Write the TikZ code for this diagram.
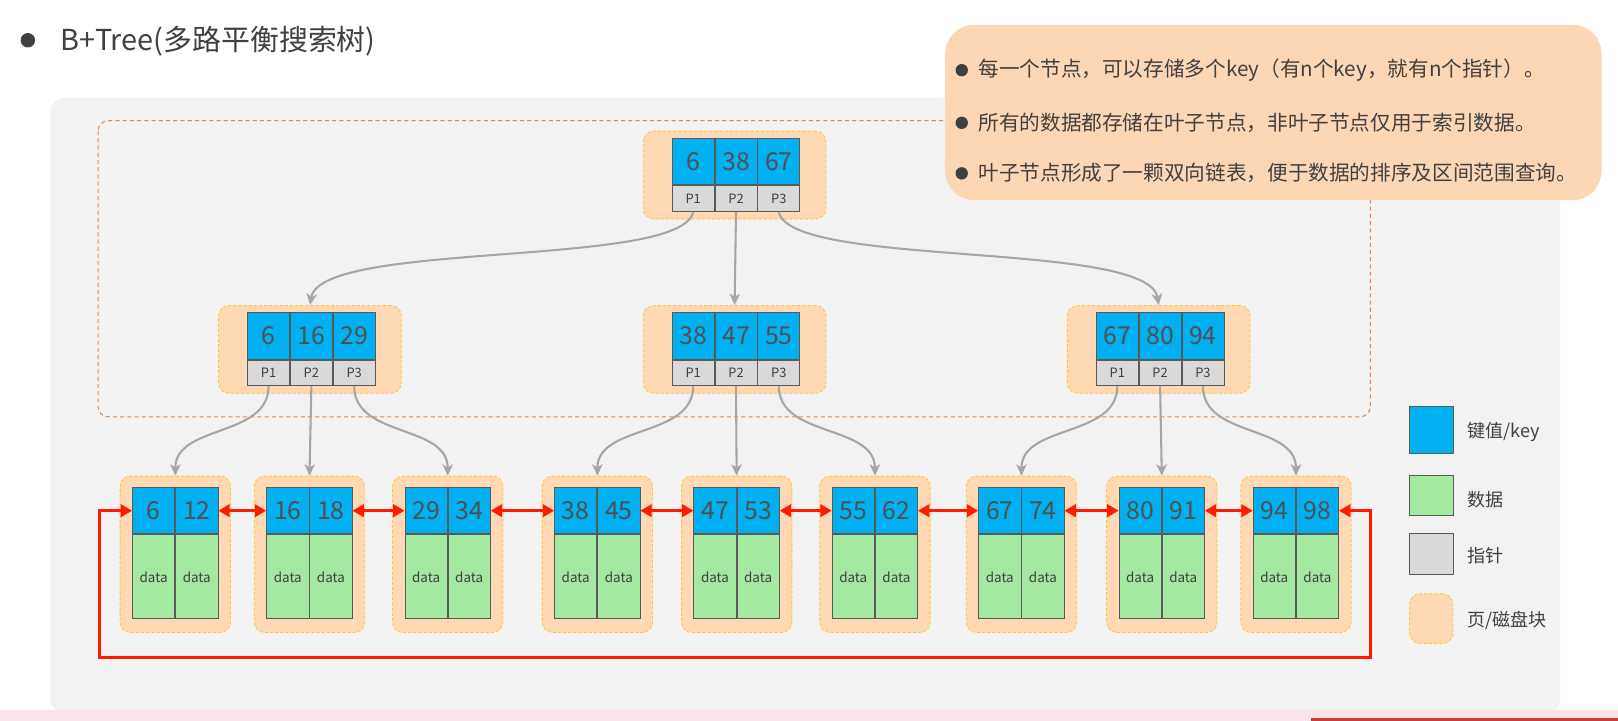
\documentclass[tikz,border=0pt]{standalone}
\usepackage{fontspec}
\setmainfont{Noto Sans CJK SC}
\usetikzlibrary{arrows.meta}
\definecolor{keyblue}{HTML}{00B0F0}
\definecolor{datagreen}{HTML}{A3E9A0}
\definecolor{ptrgray}{HTML}{D9D9D9}
\definecolor{cellline}{HTML}{595959}
\definecolor{pagefill}{HTML}{FFD8B4}
\definecolor{pageline}{HTML}{FFC533}
\definecolor{panelgray}{HTML}{F2F2F2}
\definecolor{outerorange}{HTML}{E8874A}
\definecolor{infofill}{HTML}{FDD6B4}
\definecolor{txt}{HTML}{404040}
\definecolor{numtxt}{HTML}{505050}
\definecolor{linkgray}{HTML}{A6A6A6}
\definecolor{linkred}{HTML}{FF1A00}
\definecolor{pinkband}{HTML}{FAE3E9}
\definecolor{redband}{HTML}{C83C3C}

\tikzset{
  cellbase/.style={draw=cellline, line width=0.8pt, inner sep=0pt, anchor=north west},
  keycell/.style={cellbase, fill=keyblue, minimum width=40.7pt, minimum height=45pt, font=\fontsize{24}{24}\selectfont, text=numtxt},
  ptrcell/.style={cellbase, fill=ptrgray, minimum width=40.7pt, minimum height=25pt, font=\fontsize{12.5}{12.5}\selectfont, text=txt},
  leafkey/.style={keycell, minimum width=41pt},
  datacell/.style={cellbase, fill=datagreen, minimum width=41pt, minimum height=81.5pt, font=\fontsize{13}{13}\selectfont, text=txt},
  pagebox/.style={draw=pageline, fill=pagefill, dash pattern=on 3pt off 2pt, line width=0.8pt, rounded corners=10pt, inner sep=0pt, anchor=north west},
  treelink/.style={draw=linkgray, line width=2pt, -{Stealth[length=11pt,width=10pt,inset=3pt]}},
  leaflink/.style={draw=linkred, line width=3pt, {Triangle[length=11pt,width=12pt]}-{Triangle[length=11pt,width=12pt]}},
  infotext/.style={anchor=west, inner sep=0pt, font=\fontsize{20}{20}\selectfont, text=txt},
  legendtext/.style={anchor=west, inner sep=0pt, font=\fontsize{17.5}{17.5}\selectfont, text=txt},
  legendbox/.style={draw=cellline, line width=0.8pt, inner sep=0pt, minimum width=42pt, minimum height=45pt}
}

\newcommand{\bpinner}[6]{%
  \node[pagebox, minimum width=177pt, minimum height=85pt] (#1page) at (#2-28,#3-7) {};
  \node[keycell] (#1k1) at (#2,#3) {#4};
  \node[keycell] (#1k2) at (#1k1.north east) {#5};
  \node[keycell] (#1k3) at (#1k2.north east) {#6};
  \node[ptrcell] (#1p1) at (#1k1.south west) {P1};
  \node[ptrcell] (#1p2) at (#1k2.south west) {P2};
  \node[ptrcell] (#1p3) at (#1k3.south west) {P3};
}
\newcommand{\bpleaf}[5]{%
  \node[pagebox, minimum width=107pt, minimum height=151.5pt] (#1page) at (#2-12,#3-11) {};
  \node[leafkey] (#1k1) at (#2,#3) {#4};
  \node[leafkey] (#1k2) at (#1k1.north east) {#5};
  \node[datacell] (#1d1) at (#1k1.south west) {data};
  \node[datacell] (#1d2) at (#1k2.south west) {data};
}

\begin{document}
\begin{tikzpicture}[x=1pt,y=-1pt]
\useasboundingbox (0,0) rectangle (1568,698.7);
\fill[white] (0,0) rectangle (1568,698.7);
% main panel
\fill[panelgray, rounded corners=12pt] (49,95) rectangle (1512,690);
\fill[pinkband] (0,688) rectangle (1568,698.7);
\fill[redband] (1270,696) rectangle (1568,698.7);
% title
\fill[txt] (27,39) circle[radius=7pt];
\node[anchor=base west, inner sep=0pt, font=\fontsize{28}{28}\selectfont, text=txt] (title) at (58,48.5) {B+Tree(多路平衡搜索树)};
% dashed non-leaf region
\draw[outerorange, line width=1pt, dash pattern=on 4pt off 3pt, rounded corners=10pt] (95,117) rectangle (1328,404);

% non-leaf nodes
\bpinner{top}{651}{133.7}{6}{38}{67}
\bpinner{lm}{239.5}{302.7}{6}{16}{29}
\bpinner{mm}{651}{302.7}{38}{47}{55}
\bpinner{rm}{1062}{302.7}{67}{80}{94}

% leaves
\bpleaf{la}{128}{472}{6}{12}
\bpleaf{lb}{258}{472}{16}{18}
\bpleaf{lc}{392}{472}{29}{34}
\bpleaf{ld}{537}{472}{38}{45}
\bpleaf{le}{672}{472}{47}{53}
\bpleaf{lf}{806}{472}{55}{62}
\bpleaf{lg}{948}{472}{67}{74}
\bpleaf{lh}{1084}{472}{80}{91}
\bpleaf{li}{1214}{472}{94}{98}

% tree links
\draw[treelink] (topp1.south) to[out=-101,in=81,out distance=56pt,in distance=64pt] (lmpage.north);
\draw[treelink] (topp2.south) -- (mmpage.north);
\draw[treelink] (topp3.south) to[out=-79,in=99,out distance=56pt,in distance=64pt] (rmpage.north);

\draw[treelink] (lmp1.south) to[out=-90,in=90,out distance=50pt,in distance=50pt] (lapage.north);
\draw[treelink] (lmp2.south) -- (lbpage.north);
\draw[treelink] (lmp3.south) to[out=-90,in=90,out distance=50pt,in distance=50pt] (lcpage.north);
\draw[treelink] (mmp1.south) to[out=-90,in=90,out distance=50pt,in distance=50pt] (ldpage.north);
\draw[treelink] (mmp2.south) -- (lepage.north);
\draw[treelink] (mmp3.south) to[out=-90,in=90,out distance=50pt,in distance=50pt] (lfpage.north);
\draw[treelink] (rmp1.south) to[out=-90,in=90,out distance=50pt,in distance=50pt] (lgpage.north);
\draw[treelink] (rmp2.south) -- (lhpage.north);
\draw[treelink] (rmp3.south) to[out=-90,in=90,out distance=50pt,in distance=50pt] (lipage.north);

% leaf links
\draw[leaflink] (lak2.east) -- (lbk1.west);
\draw[leaflink] (lbk2.east) -- (lck1.west);
\draw[leaflink] (lck2.east) -- (ldk1.west);
\draw[leaflink] (ldk2.east) -- (lek1.west);
\draw[leaflink] (lek2.east) -- (lfk1.west);
\draw[leaflink] (lfk2.east) -- (lgk1.west);
\draw[leaflink] (lgk2.east) -- (lhk1.west);
\draw[leaflink] (lhk2.east) -- (lik1.west);
\coordinate (loopR) at (1328,637);
\coordinate (loopL) at (96,637);
\draw[leaflink] (lik2.east) -| (loopR) -- (loopL) |- (lak1.west);

% legend
\node[legendbox, fill=keyblue] (lgkey) at (1387,416.5) {};
\node[legendtext] (lgkeyt) at (1422,418.6) {键值/key};
\node[legendbox, fill=datagreen, minimum height=38pt] (lgdata) at (1387,480) {};
\node[legendtext] (lgdatat) at (1422,484.5) {数据};
\node[legendbox, fill=ptrgray, minimum height=40pt] (lgptr) at (1387,536.5) {};
\node[legendtext] (lgptrt) at (1422,538) {指针};
\node[pagebox, anchor=center, minimum width=42pt, minimum height=48pt] (lgpage) at (1387,599.5) {};
\node[legendtext] (lgpaget) at (1422,601) {页/磁盘块};

% info box
\fill[infofill, rounded corners=28pt] (916,24) rectangle (1552,194);
\fill[txt] (932,68) circle[radius=6pt];
\fill[txt] (932,119) circle[radius=6pt];
\fill[txt] (932,168) circle[radius=6pt];
\node[infotext] (info1) at (948,68) {每一个节点，可以存储多个key（有n个key，就有n个指针）。};
\node[infotext] (info2) at (948,119) {所有的数据都存储在叶子节点，非叶子节点仅用于索引数据。};
\node[infotext] (info3) at (948,168) {叶子节点形成了一颗双向链表，便于数据的排序及区间范围查询。};
\end{tikzpicture}
\end{document}
